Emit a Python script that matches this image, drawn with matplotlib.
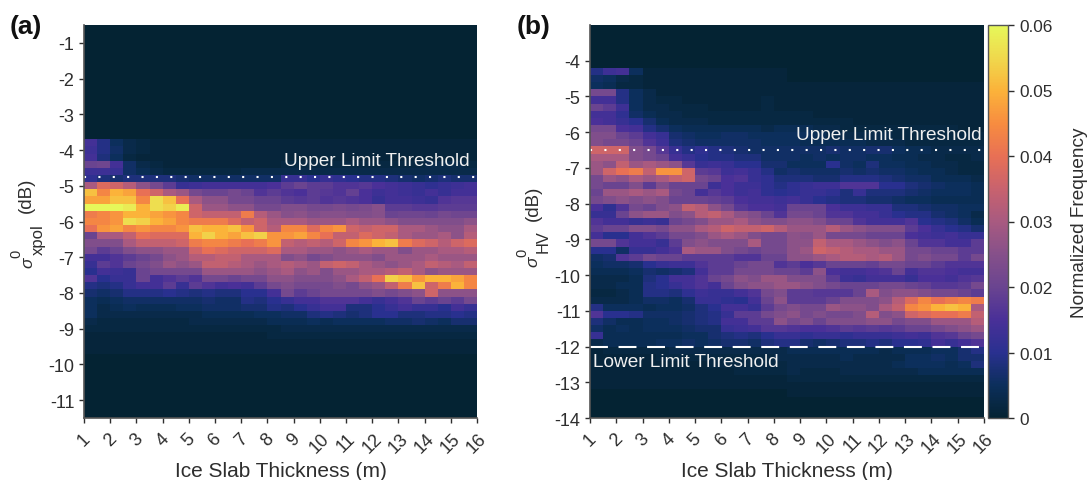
import numpy as np
import matplotlib
matplotlib.use("Agg")
import matplotlib.pyplot as plt
from matplotlib.colors import LinearSegmentedColormap

plt.rcParams['font.family'] = ['Liberation Sans', 'DejaVu Sans']

# frequency in thousandths; every row is 0.2 dB, every column 0.5 m
thickness_edges = [1 + 0.5 * k for k in range(31)]
a_top = -0.5; a_bottom = -11.5; a_first_row_top = -3.7
b_top = -3.0; b_bottom = -14.0; b_first_row_top = -4.3
vmax = 0.06

panel_a = [
 [14,9,5,3,2,1,1,1,1,1,1,1,1,1,1, 1,1,1,1,1,1,1,1,1,1,1,1,1,1,1],
 [13,9,6,3,2,1,1,1,1,1,1,1,1,1,1, 1,1,1,1,1,1,1,1,1,1,1,1,1,1,1],
 [14,8,5,2,1,1,1,1,1,1,1,1,1,1,1, 1,1,1,1,1,1,1,1,1,1,1,1,1,1,1],
 [20,21,14,6,3,2,1,1,1,1,1,1,1,1,1, 2,2,2,2,2,2,2,2,2,2,2,3,3,3,2],
 [13,13,12,6,4,3,2,2,2,2,2,2,3,3,3, 3,3,3,3,3,3,3,3,3,3,3,3,3,3,3],
 [11,8,7,8,8,8,8,7,6,6,6,6,6,6,6, 12,12,10,12,11,10,9,9,8,7,6,7,8,7,7],
 [30,38,36,32,26,22,18,12,13,14,14,14,14,14,15, 18,20,18,18,16,16,17,15,14,13,12,11,12,13,14],
 [52,44,50,48,40,36,30,28,22,20,20,22,20,16,18, 16,15,18,17,16,19,15,13,14,13,12,14,12,14,14],
 [48,48,52,52,44,56,52,40,30,26,26,22,22,20,20, 18,17,18,16,17,16,15,12,14,14,13,12,16,17,17],
 [60,60,60,58,50,56,54,58,36,28,28,26,26,22,22, 24,24,22,22,23,22,23,25,18,18,17,17,18,18,18],
 [42,44,46,50,50,48,46,44,36,34,34,34,42,32,28, 25,26,24,25,25,24,24,25,20,21,21,20,22,21,21],
 [44,44,46,56,54,50,48,44,42,42,42,38,34,36,30, 30,30,28,28,28,30,28,28,26,24,24,24,24,24,26],
 [40,46,48,44,46,44,44,46,52,50,50,52,46,36,32, 44,44,38,44,46,36,34,36,36,30,30,28,26,26,30],
 [20,30,30,34,40,38,38,38,50,54,50,48,52,54,46, 46,48,44,40,34,34,38,36,34,30,28,28,30,26,32],
 [24,24,24,30,34,34,34,36,42,44,44,42,40,42,46, 34,32,34,32,36,44,46,50,52,42,38,36,32,36,38],
 [22,18,20,24,26,26,28,28,36,40,38,36,36,36,38, 30,30,28,28,26,28,30,28,28,24,28,28,30,30,32],
 [14,14,16,18,20,22,26,28,32,32,34,34,30,30,30, 24,26,22,24,26,26,26,24,28,28,28,30,28,28,28],
 [12,18,16,20,22,24,28,26,28,34,34,32,30,28,30, 32,30,28,34,36,34,30,28,26,28,30,34,32,30,34],
 [10,14,13,12,20,22,22,22,22,28,28,28,28,26,28, 30,26,28,24,28,28,30,30,32,34,30,26,28,28,28],
 [16,10,12,12,20,14,16,18,16,22,22,20,22,22,26, 26,24,24,24,26,30,34,40,54,52,46,50,50,48,44],
 [9,8,9,12,14,14,18,12,18,16,14,15,14,18,22, 24,22,22,22,24,22,26,28,34,42,52,36,42,50,44],
 [7,6,7,9,9,9,10,9,8,9,8,8,10,10,14, 22,18,20,22,22,22,22,24,22,24,26,36,26,26,26],
 [5,4,5,6,6,6,6,6,6,7,6,6,9,8,10, 12,14,14,16,16,16,14,12,14,16,20,18,20,18,22],
 [5,3,4,5,4,4,4,5,5,6,6,6,7,7,9, 8,10,12,14,14,8,8,10,12,14,12,12,10,14,12],
 [5,3,3,3,3,3,3,3,3,4,4,4,4,5,5, 6,6,8,9,8,7,8,10,10,8,8,9,9,10,9],
 [3,2,2,2,2,2,2,2,3,3,3,3,3,3,4, 4,4,5,4,5,5,5,5,6,6,7,6,5,7,7],
 [2,2,2,2,2,2,2,2,2,2,2,2,2,2,2, 3,3,3,3,3,3,3,3,3,3,3,3,3,3,3],
 [1,1,1,1,1,1,1,1,1,1,1,1,1,1,2, 2,2,2,2,2,2,2,2,2,2,2,2,2,2,2],
 [1,1,1,1,1,1,1,1,1,1,1,1,1,1,1, 1,1,1,1,1,1,1,1,1,1,1,1,1,1,1],
 [1,1,1,1,1,1,1,1,1,1,1,1,1,1,1, 1,1,1,1,1,1,1,1,1,1,1,1,1,1,1],
]

panel_b = [
 [9,13,14,5,1,1,1,1,1,1,1,1,1,1,1, 0,0,0,0,0,0,0,0,0,0,0,0,0,0,0],
 [6,5,3,2,1,1,1,1,1,1,1,1,1,1,1, 0,0,0,0,0,0,0,0,0,0,0,0,0,0,0],
 [5,4,2,2,1,1,1,1,1,1,1,1,1,1,1, 1,1,1,1,1,1,1,1,1,1,1,1,1,1,1],
 [22,22,9,5,3,1,1,1,1,1,1,1,1,1,1, 1,1,1,1,1,1,1,1,1,1,1,1,1,1,1],
 [14,14,9,5,3,2,2,1,1,1,1,1,1,2,1, 1,1,1,1,1,1,1,1,1,1,1,1,1,1,1],
 [20,18,13,5,3,3,2,2,2,1,1,1,1,2,1, 1,1,1,1,1,1,1,1,1,1,1,1,1,1,1],
 [14,14,11,6,4,3,3,2,2,2,2,2,2,2,2, 2,2,1,1,1,1,1,1,1,1,1,1,1,1,1],
 [15,14,12,10,7,4,3,3,3,2,2,2,2,2,2, 2,2,2,2,2,1,1,1,1,1,1,1,1,1,1],
 [22,22,15,14,9,7,5,4,4,4,4,4,4,3,4, 4,4,3,3,2,2,2,2,2,2,2,2,2,1,1],
 [24,24,20,18,14,12,7,6,5,5,6,6,5,5,5, 5,5,4,3,3,3,3,3,2,2,2,2,2,2,2],
 [24,22,22,20,16,13,8,7,6,6,6,6,6,5,5, 5,4,4,4,4,4,3,3,3,2,2,2,2,2,2],
 [36,36,36,24,22,17,12,9,11,9,8,7,6,6,6, 6,6,6,7,6,6,7,7,5,4,4,3,3,3,3],
 [30,30,30,24,22,20,14,12,10,9,9,8,8,6,6, 6,5,6,5,6,6,5,5,4,4,3,3,2,2,3],
 [28,26,34,28,30,28,26,17,12,13,12,10,10,7,7, 5,5,5,10,6,5,8,5,5,4,4,3,3,2,2],
 [28,36,40,42,34,46,46,36,18,17,13,14,12,9,6, 7,6,6,6,7,6,7,6,6,5,4,4,3,2,2],
 [22,28,26,30,28,30,34,36,22,20,15,16,12,11,8, 8,8,7,7,9,9,9,8,7,6,6,4,4,4,3],
 [22,20,20,24,18,24,20,20,20,13,15,13,13,11,9, 11,12,13,13,16,16,16,10,10,8,7,6,5,5,4],
 [20,28,28,30,28,30,22,20,14,17,15,13,14,11,10, 11,12,12,11,8,12,8,8,8,7,6,5,5,5,4],
 [22,24,26,24,26,24,20,20,20,19,18,15,14,14,13, 14,12,10,9,8,8,7,7,6,5,5,4,4,4,4],
 [15,11,16,22,20,24,26,34,32,26,22,17,15,15,14, 20,20,20,15,13,13,12,12,8,8,7,6,6,5,5],
 [12,12,20,26,28,28,24,26,32,34,30,26,24,20,16, 22,22,20,16,16,14,14,12,10,9,9,7,6,5,3],
 [16,14,14,12,13,12,20,22,24,28,28,30,26,24,24, 26,26,24,20,20,16,14,14,14,16,10,9,8,6,4],
 [18,20,20,24,24,22,26,26,30,32,36,34,34,36,32, 28,28,28,32,28,26,24,24,24,18,15,12,10,9,7],
 [14,10,10,14,16,18,22,22,24,28,30,28,24,22,22, 26,25,28,22,22,22,20,20,20,15,14,13,14,12,12],
 [22,22,16,14,14,12,18,24,26,24,24,24,30,22,22, 26,26,34,30,30,28,26,24,26,20,16,16,14,14,18],
 [10,10,6,12,12,14,16,30,28,28,24,22,20,22,22, 26,28,36,34,32,30,30,28,28,22,22,20,20,18,18],
 [6,7,16,18,22,20,20,18,18,18,18,16,16,20,20, 26,26,28,30,32,32,30,32,28,22,24,22,22,18,22],
 [5,6,6,7,10,12,13,13,16,18,18,20,22,22,16, 18,15,17,20,20,20,19,22,22,20,20,18,16,16,16],
 [4,4,4,5,7,6,7,8,14,18,18,22,22,22,20, 20,18,26,15,14,14,15,16,20,14,16,16,15,14,14],
 [3,3,3,4,8,10,14,14,16,20,22,26,24,28,28, 24,24,24,18,13,12,14,14,14,12,15,15,14,16,17],
 [3,3,4,4,9,10,12,14,16,14,20,24,26,26,28, 28,26,24,22,20,20,20,22,22,20,19,17,17,18,22],
 [2,2,3,4,9,9,8,11,13,12,12,14,16,22,24, 18,18,17,17,17,20,30,24,26,26,24,22,22,20,18],
 [3,3,3,4,6,6,5,7,12,12,11,10,14,20,26, 18,18,18,20,24,24,24,26,32,38,44,40,42,44,42],
 [9,5,5,5,4,5,5,6,8,10,14,14,12,18,22, 24,22,22,28,26,26,24,30,34,44,46,50,52,50,30],
 [16,10,10,9,6,6,6,7,8,9,12,18,18,22,24, 26,22,24,22,22,24,32,24,26,36,38,40,40,42,34],
 [8,6,4,4,5,5,6,7,8,9,14,14,18,18,26, 22,24,20,24,24,24,26,26,22,24,24,28,28,28,32],
 [6,4,5,4,5,5,5,6,7,7,12,13,14,17,17, 16,15,15,16,18,17,18,17,18,20,20,22,24,26,28],
 [12,4,4,4,4,4,4,5,5,7,8,9,8,10,12, 12,11,12,12,11,12,12,12,13,14,13,16,17,20,22],
 [3,4,4,4,4,5,5,6,5,6,7,7,6,8,9, 9,7,6,7,8,8,9,8,10,10,11,14,12,14,16],
 [1,2,2,2,2,2,3,3,3,3,3,3,3,3,3, 4,4,4,4,4,4,4,3,4,4,4,5,5,7,9],
 [1,1,1,1,1,2,2,2,2,2,2,2,2,2,3, 3,3,3,3,4,3,3,3,3,5,5,6,5,7,7],
 [1,1,1,1,1,1,1,1,1,2,2,2,2,2,2, 3,3,3,3,3,3,3,3,4,5,5,5,4,5,8],
 [1,1,1,1,1,1,1,1,1,1,1,2,2,2,2, 3,2,2,2,3,3,3,3,3,3,4,4,4,4,4],
 [1,1,1,1,1,1,1,1,1,1,1,1,1,1,1, 2,2,2,2,2,2,2,2,2,2,2,2,2,2,2],
 [1,1,1,1,1,1,1,1,1,1,1,1,1,1,1, 1,1,1,1,1,1,1,1,1,1,1,1,1,1,1],
 [0,0,0,0,0,0,0,0,0,0,0,0,0,0,0, 1,1,1,1,1,1,1,1,1,1,1,1,1,1,1],
]

a_upper_limit = -4.75
b_upper_limit = -6.5
b_lower_limit = -12.0
x_ticks = list(range(1, 17))
a_y_ticks = list(range(-11, 0))
b_y_ticks = list(range(-14, -3))
cbar_ticks = [0, 0.01, 0.02, 0.03, 0.04, 0.05, 0.06]
cbar_labels = ['0', '0.01', '0.02', '0.03', '0.04', '0.05', '0.06']

thermal = LinearSegmentedColormap.from_list('thermal', [
    (0 / 12, '#042333'), (1 / 12, '#0c2f5c'), (2 / 12, '#2a3090'), (3 / 12, '#4a3098'),
    (4 / 12, '#6a4490'), (5 / 12, '#86508a'), (6 / 12, '#a85a80'), (7 / 12, '#c8626e'),
    (8 / 12, '#e87055'), (9 / 12, '#f78c40'), (10 / 12, '#fbb23a'), (11 / 12, '#f0d84c'),
    (12 / 12, '#e6f85a')])

INK = '#2e2e2e'
W, H = 1090, 481
fig = plt.figure(figsize=(W / 100, H / 100), dpi=100)


def box(x0, x1, y0, y1):
    return [x0 / W, (H - y1) / H, (x1 - x0) / W, (y1 - y0) / H]


def heat(ax, rows, top, bottom, first_top):
    n_rows = int(round((top - bottom) / 0.2))
    edges = [top - 0.2 * k for k in range(n_rows + 1)]
    grid = np.zeros((n_rows, 30))
    start = int(round((top - first_top) / 0.2))
    grid[start:start + len(rows)] = np.array(rows) / 1000
    m = ax.pcolormesh(thickness_edges, edges, grid, cmap=thermal, vmin=0, vmax=vmax,
                      shading='flat', rasterized=True)
    ax.set_xlim(1, 16)
    ax.set_ylim(bottom, top)
    return m


def style(ax, yticks):
    ax.set_xticks(x_ticks)
    ax.set_xticklabels([str(t) for t in x_ticks], rotation=45, ha='center')
    ax.set_yticks(yticks)
    ax.set_yticklabels([str(t) for t in yticks])
    ax.tick_params(axis='both', labelsize=13, colors=INK, length=3.5, width=1.0, pad=3.5)
    ax.tick_params(axis='x', pad=5)
    for s in ('top', 'right'):
        ax.spines[s].set_visible(False)
    for s in ('left', 'bottom'):
        ax.spines[s].set_color('#555555')
        ax.spines[s].set_linewidth(1.2)
    ax.set_xlabel('Ice Slab Thickness (m)', fontsize=15, color=INK, labelpad=3.5)


def vertical(x, y, s, size, **kw):
    fig.text(x / W, 1 - y / H, s, fontsize=size, rotation=90, color=INK,
             ha='center', va='center', **kw)


dots = (0, (1, 5.9))
dashes = (0, (8.6, 5.1))

ax1 = fig.add_axes(box(84, 477, 26, 419))
heat(ax1, panel_a, a_top, a_bottom, a_first_row_top)
style(ax1, a_y_ticks)
vertical(28, 263, '\u03c3', 12.5, fontstyle='italic')
vertical(16, 254, '0', 10.5)
vertical(38, 240, 'xpol', 12)
vertical(26, 195, '(dB)', 13.5)
ax1.axhline(a_upper_limit, color='white', lw=1.5, ls=dots)
ax1.text(15.72, -4.3, 'Upper Limit Threshold', color='#f0f0f0', fontsize=13.7, ha='right', va='center')

ax2 = fig.add_axes(box(590, 984, 26, 419))
mesh = heat(ax2, panel_b, b_top, b_bottom, b_first_row_top)
style(ax2, b_y_ticks)
vertical(533, 262, '\u03c3', 12.5, fontstyle='italic')
vertical(522, 253, '0', 10.5)
vertical(543, 242, 'HV', 11.8)
vertical(533, 203, '(dB)', 13.5)
ax2.axhline(b_upper_limit, color='white', lw=1.5, ls=dots)
ax2.axhline(b_lower_limit, color='white', lw=1.5, ls=dashes)
ax2.text(15.9, -6.07, 'Upper Limit Threshold', color='#f0f0f0', fontsize=13.7, ha='right', va='center')
ax2.text(1.13, -12.42, 'Lower Limit Threshold', color='#f0f0f0', fontsize=13.7, ha='left', va='center')

cax = fig.add_axes(box(988, 1008, 26, 419))
cb = fig.colorbar(mesh, cax=cax)
cb.set_ticks(cbar_ticks)
cb.set_ticklabels(cbar_labels)
cb.ax.tick_params(labelsize=12.4, colors=INK, length=4, width=1.0, pad=4)
cb.outline.set_edgecolor('#555555')
cb.outline.set_linewidth(1.0)
vertical(1079, 223, 'Normalized Frequency', 13.7)

fig.text(10 / W, 1 - 27 / H, '(a)', fontsize=19, fontweight='bold', color='#111111', va='center')
fig.text(517 / W, 1 - 27 / H, '(b)', fontsize=19, fontweight='bold', color='#111111', va='center')

fig.savefig('out.png', dpi=100)
